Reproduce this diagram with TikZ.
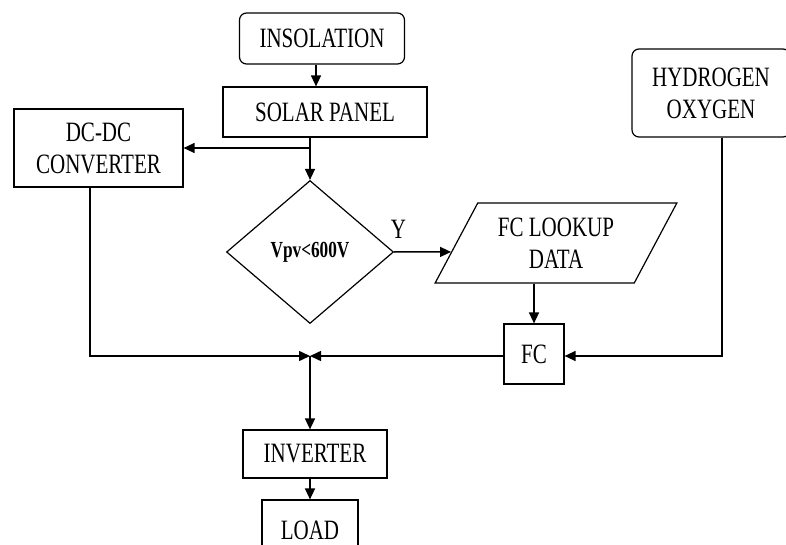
\documentclass[tikz,border=0pt]{standalone}
\usepackage{fontspec}
\setmainfont[FakeStretch=0.75]{Liberation Serif}
\usepackage{tikz}
\usetikzlibrary{arrows.meta,positioning,shapes.geometric,calc}

\begin{document}
\begin{tikzpicture}[
    x=1pt, y=-1pt,
    every node/.style={font=\fontsize{28}{32}\selectfont, align=center, inner sep=0pt},
    box/.style={draw, line width=1.2pt, minimum width=#1},
    rbox/.style={draw, line width=1.2pt, rounded corners=7pt},
    decide/.style={draw, diamond, line width=1.2pt, minimum width=167pt, minimum height=143pt,
        font=\bfseries\fontsize{23}{26}\selectfont},
    datain/.style={draw, trapezium, trapezium left angle=58, trapezium right angle=122,
        trapezium stretches=true, line width=1.2pt, minimum width=242pt, minimum height=80pt},
    line/.style={-{Triangle[length=11pt,width=10pt]}, line width=1.5pt}
]
\clip (0,0) rectangle (786,545);

\node[rbox, minimum width=165pt, minimum height=51pt] (insol) at (322,38.5) {INSOLATION};
\node[box=204pt, minimum height=50pt] (solar) at (325,112) {SOLAR PANEL};
\node[box=169pt, minimum height=78pt] (dcdc) at (98.5,148) {DC-DC\\CONVERTER};
\node[decide] (vpv) at (310,252) {Vpv<600V};
\node[datain] (look) at (556,243) {FC LOOKUP\\DATA};
\node[box=60pt, minimum height=60pt] (fc) at (534,354) {FC};
\node[rbox, minimum width=158pt, minimum height=88pt] (hyd) at (711,93) {HYDROGEN\\OXYGEN};
\node[box=144pt, minimum height=48pt] (inv) at (315,454) {INVERTER};
\node[box=96pt, minimum height=60pt] (load) at (310,530) {LOAD};

\coordinate (split) at (310,148);
\coordinate (join) at (310,356);

\draw[line] ([xshift=-6pt]insol.south) -- ([xshift=-6pt]insol.south |- solar.north);
\draw[line width=1.5pt] (solar.south -| split) -- (split);
\draw[line] (split) -- (dcdc.east |- split);
\draw[line] (split) -- (vpv.north);
\draw[line] (vpv.east) -- ($(look.bottom left corner)!0.39!(look.top left corner)$)
    node[pos=0, anchor=south west, xshift=-4pt, yshift=13pt] (yes) {Y};
\draw[line] (look.south -| fc) -- (fc.north);
\draw[line] ([xshift=11pt]hyd.south) |- (fc.east |- join);
\draw[line] (fc.west |- join) -- (join);
\draw[line] ([xshift=-8.5pt]dcdc.south) |- (join);
\draw[line] (join) -- (join |- inv.north);
\draw[line] (inv.south -| load) -- (load.north);
\end{tikzpicture}
\end{document}
